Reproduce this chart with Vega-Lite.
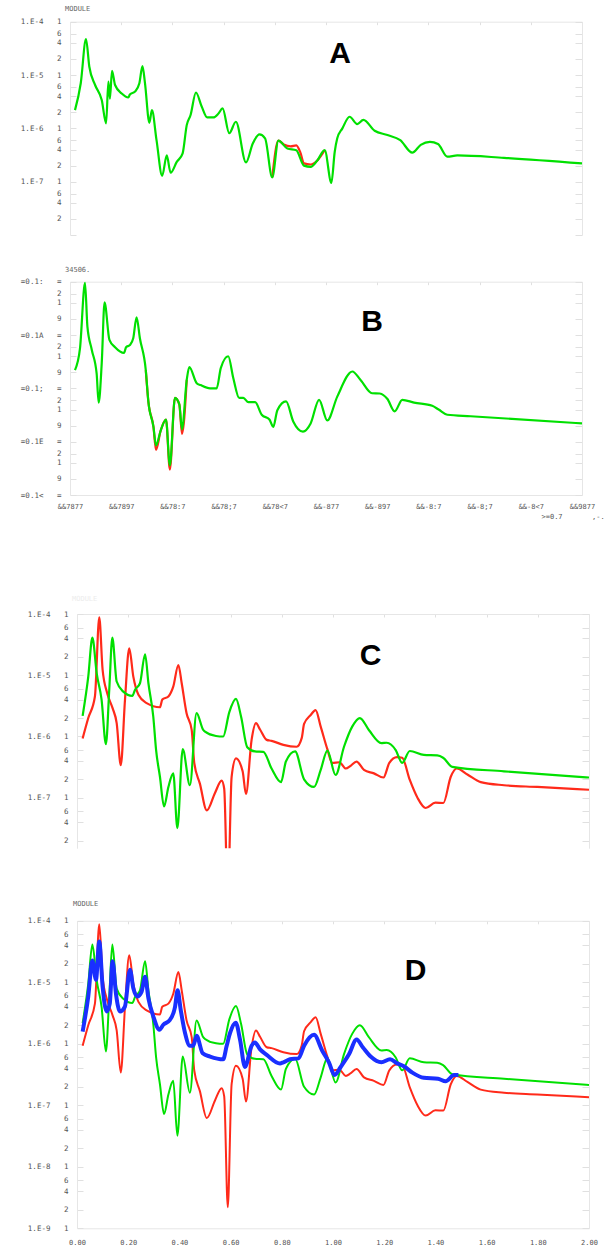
{
"$schema":"https://vega.github.io/schema/vega-lite/v6.json",
"padding":{"left":20,"top":0,"right":0,"bottom":0},
"autosize":{"type":"pad"},
"bounds":"flush",
"spacing":0,
"background":"white",
"config":{"view":{"stroke":null},"axis":{"grid":false,"title":null,"labelOverlap":false,"labelBound":false,"labelFlush":false,"labelFont":"DejaVu Sans Mono","labelFontSize":7.5,"labelColor":"#555","domainColor":"#e6e6e6","tickColor":"#e0e0e0"}},
"datasets":{
"a_red":[{"x":0.79,"y":1.2e-7},{"x":0.814,"y":5.9e-7},{"x":0.835,"y":5.0e-7},{"x":0.862,"y":4.6e-7},{"x":0.884,"y":4.8e-7},{"x":0.9,"y":3.5e-7},{"x":0.914,"y":2.2e-7},{"x":0.94,"y":2.1e-7},{"x":0.966,"y":2.5e-7},{"x":0.995,"y":3.9e-7}],
"a_green":[{"x":0.0195,"y":2.2e-6},{"x":0.042,"y":7e-6},{"x":0.0625,"y":4.7e-5},{"x":0.0755,"y":1.43e-5},{"x":0.098,"y":6.5e-6},{"x":0.124,"y":3.4e-6},{"x":0.141,"y":1.24e-6},{"x":0.15,"y":7.5e-6},{"x":0.156,"y":3.6e-6},{"x":0.164,"y":1.2e-5},{"x":0.176,"y":6.5e-6},{"x":0.202,"y":4.5e-6},{"x":0.228,"y":3.8e-6},{"x":0.234,"y":4.3e-6},{"x":0.254,"y":4.9e-6},{"x":0.271,"y":7.0e-6},{"x":0.283,"y":1.47e-5},{"x":0.293,"y":7e-6},{"x":0.31,"y":1.27e-6},{"x":0.32,"y":2.2e-6},{"x":0.338,"y":6.0e-7},{"x":0.36,"y":1.29e-7},{"x":0.378,"y":3.1e-7},{"x":0.393,"y":1.47e-7},{"x":0.417,"y":2.35e-7},{"x":0.44,"y":3.4e-7},{"x":0.456,"y":1.15e-6},{"x":0.471,"y":1.78e-6},{"x":0.492,"y":4.7e-6},{"x":0.514,"y":2.6e-6},{"x":0.536,"y":1.6e-6},{"x":0.56,"y":1.6e-6},{"x":0.58,"y":1.9e-6},{"x":0.596,"y":2.37e-6},{"x":0.622,"y":8.1e-7},{"x":0.648,"y":1.33e-6},{"x":0.6875,"y":2.3e-7},{"x":0.714,"y":5.2e-7},{"x":0.74,"y":7.7e-7},{"x":0.762,"y":6.5e-7},{"x":0.79,"y":1.2e-7},{"x":0.814,"y":5.9e-7},{"x":0.849,"y":4.2e-7},{"x":0.884,"y":3.9e-7},{"x":0.914,"y":2.0e-7},{"x":0.94,"y":1.9e-7},{"x":0.966,"y":2.5e-7},{"x":0.995,"y":3.9e-7},{"x":1.021,"y":9.5e-8},{"x":1.034,"y":3.6e-7},{"x":1.044,"y":6.5e-7},{"x":1.064,"y":1.0e-6},{"x":1.092,"y":1.65e-6},{"x":1.122,"y":1.2e-6},{"x":1.146,"y":1.44e-6},{"x":1.19,"y":9.0e-7},{"x":1.24,"y":7.5e-7},{"x":1.29,"y":6.0e-7},{"x":1.337,"y":3.5e-7},{"x":1.37,"y":4.9e-7},{"x":1.406,"y":5.6e-7},{"x":1.4375,"y":5.1e-7},{"x":1.474,"y":2.95e-7},{"x":1.513,"y":3.1e-7},{"x":1.695,"y":2.8e-7},{"x":2.0,"y":2.2e-7}],
"b_red":[{"x":0.296,"y":2.2e-6},{"x":0.306,"y":5.7e-7},{"x":0.326,"y":1.9e-7},{"x":0.336,"y":7e-8},{"x":0.354,"y":1.6e-7},{"x":0.375,"y":2.6e-7},{"x":0.39,"y":3.0e-8},{"x":0.41,"y":6.6e-7},{"x":0.427,"y":5.0e-7},{"x":0.4375,"y":1.4e-7},{"x":0.456,"y":1.44e-6}],
"b_green":[{"x":0.0195,"y":2.2e-6},{"x":0.039,"y":5.6e-6},{"x":0.0586,"y":9.5e-5},{"x":0.068,"y":1.44e-5},{"x":0.085,"y":5.3e-6},{"x":0.104,"y":1.9e-6},{"x":0.112,"y":5.4e-7},{"x":0.124,"y":3.0e-6},{"x":0.135,"y":4.1e-5},{"x":0.154,"y":8.1e-6},{"x":0.176,"y":5.9e-6},{"x":0.211,"y":4.6e-6},{"x":0.219,"y":5.9e-6},{"x":0.234,"y":6.5e-6},{"x":0.247,"y":8.7e-6},{"x":0.26,"y":2.15e-5},{"x":0.273,"y":8.7e-6},{"x":0.296,"y":2.2e-6},{"x":0.306,"y":5.7e-7},{"x":0.326,"y":1.9e-7},{"x":0.336,"y":8.5e-8},{"x":0.354,"y":1.6e-7},{"x":0.375,"y":2.6e-7},{"x":0.39,"y":3.6e-8},{"x":0.41,"y":6.6e-7},{"x":0.427,"y":5.0e-7},{"x":0.4375,"y":1.7e-7},{"x":0.456,"y":1.44e-6},{"x":0.466,"y":2.5e-6},{"x":0.495,"y":1.25e-6},{"x":0.51,"y":1.15e-6},{"x":0.547,"y":1.0e-6},{"x":0.573,"y":1.0e-6},{"x":0.589,"y":2.4e-6},{"x":0.618,"y":4.0e-6},{"x":0.638,"y":1.55e-6},{"x":0.661,"y":6.6e-7},{"x":0.677,"y":6.6e-7},{"x":0.697,"y":5.5e-7},{"x":0.723,"y":5.5e-7},{"x":0.749,"y":3.2e-7},{"x":0.779,"y":2.6e-7},{"x":0.794,"y":1.9e-7},{"x":0.81,"y":3.9e-7},{"x":0.844,"y":5.7e-7},{"x":0.872,"y":2.4e-7},{"x":0.91,"y":1.55e-7},{"x":0.94,"y":2.2e-7},{"x":0.973,"y":6.1e-7},{"x":1.005,"y":2.5e-7},{"x":1.044,"y":7.0e-7},{"x":1.103,"y":2.07e-6},{"x":1.135,"y":1.44e-6},{"x":1.18,"y":8.1e-7},{"x":1.21,"y":8.0e-7},{"x":1.24,"y":6.3e-7},{"x":1.268,"y":3.7e-7},{"x":1.298,"y":6.1e-7},{"x":1.344,"y":5.4e-7},{"x":1.415,"y":4.7e-7},{"x":1.44,"y":4.0e-7},{"x":1.474,"y":3.2e-7},{"x":1.565,"y":3.0e-7},{"x":2.0,"y":2.2e-7}],
"red":[{"x":0.022,"y":9.3e-7},{"x":0.044,"y":2.0e-6},{"x":0.07,"y":4.5e-6},{"x":0.087,"y":8.8e-5},{"x":0.1,"y":1.23e-5},{"x":0.118,"y":5.1e-6},{"x":0.139,"y":2.9e-6},{"x":0.155,"y":1.65e-6},{"x":0.171,"y":3.4e-7},{"x":0.1875,"y":4.0e-6},{"x":0.204,"y":2.75e-5},{"x":0.22,"y":9.5e-6},{"x":0.24,"y":4.8e-6},{"x":0.272,"y":3.5e-6},{"x":0.324,"y":3.0e-6},{"x":0.333,"y":4.0e-6},{"x":0.357,"y":4.5e-6},{"x":0.376,"y":6.5e-6},{"x":0.396,"y":1.47e-5},{"x":0.409,"y":7.4e-6},{"x":0.428,"y":2.4e-6},{"x":0.448,"y":1.28e-6},{"x":0.458,"y":3.7e-7},{"x":0.48,"y":1.7e-7},{"x":0.507,"y":6.2e-8},{"x":0.539,"y":1.2e-7},{"x":0.565,"y":1.9e-7},{"x":0.575,"y":1.4e-7},{"x":0.589,"y":2.2e-9},{"x":0.604,"y":2.2e-7},{"x":0.621,"y":4.4e-7},{"x":0.647,"y":2.7e-7},{"x":0.66,"y":1.15e-7},{"x":0.682,"y":8.8e-7},{"x":0.699,"y":1.65e-6},{"x":0.715,"y":1.3e-6},{"x":0.741,"y":8.8e-7},{"x":0.76,"y":8.5e-7},{"x":0.806,"y":7.3e-7},{"x":0.858,"y":6.8e-7},{"x":0.878,"y":9.5e-7},{"x":0.887,"y":1.6e-6},{"x":0.913,"y":2.25e-6},{"x":0.932,"y":2.7e-6},{"x":0.952,"y":1.45e-6},{"x":0.978,"y":6.2e-7},{"x":0.997,"y":3.7e-7},{"x":1.025,"y":3.8e-7},{"x":1.05,"y":3.0e-7},{"x":1.068,"y":3.3e-7},{"x":1.092,"y":3.9e-7},{"x":1.121,"y":2.85e-7},{"x":1.16,"y":2.5e-7},{"x":1.197,"y":2.14e-7},{"x":1.22,"y":3.7e-7},{"x":1.25,"y":4.6e-7},{"x":1.27,"y":4.5e-7},{"x":1.3,"y":1.95e-7},{"x":1.33,"y":1.0e-7},{"x":1.362,"y":6.8e-8},{"x":1.4,"y":8.3e-8},{"x":1.431,"y":8.2e-8},{"x":1.46,"y":2.2e-7},{"x":1.483,"y":3.0e-7},{"x":1.525,"y":2.4e-7},{"x":1.577,"y":1.8e-7},{"x":1.668,"y":1.6e-7},{"x":1.798,"y":1.5e-7},{"x":2.0,"y":1.35e-7}],
"green":[{"x":0.022,"y":2.17e-6},{"x":0.044,"y":9.5e-6},{"x":0.06,"y":4.1e-5},{"x":0.077,"y":1.07e-5},{"x":0.096,"y":4.0e-6},{"x":0.113,"y":7.5e-7},{"x":0.126,"y":5.8e-6},{"x":0.138,"y":4.1e-5},{"x":0.155,"y":7.9e-6},{"x":0.181,"y":5.4e-6},{"x":0.216,"y":4.6e-6},{"x":0.227,"y":5.8e-6},{"x":0.246,"y":7.4e-6},{"x":0.266,"y":2.2e-5},{"x":0.279,"y":7.4e-6},{"x":0.298,"y":2.1e-6},{"x":0.309,"y":6.0e-7},{"x":0.324,"y":2.2e-7},{"x":0.34,"y":7.2e-8},{"x":0.357,"y":1.5e-7},{"x":0.376,"y":2.5e-7},{"x":0.392,"y":3.2e-8},{"x":0.413,"y":6.2e-7},{"x":0.441,"y":1.6e-7},{"x":0.467,"y":2.4e-6},{"x":0.493,"y":1.28e-6},{"x":0.5,"y":1.2e-6},{"x":0.543,"y":1.02e-6},{"x":0.571,"y":1.0e-6},{"x":0.595,"y":2.5e-6},{"x":0.621,"y":4.1e-6},{"x":0.641,"y":2.1e-6},{"x":0.665,"y":6.7e-7},{"x":0.695,"y":5.7e-7},{"x":0.728,"y":5.6e-7},{"x":0.76,"y":3.0e-7},{"x":0.797,"y":1.8e-7},{"x":0.816,"y":3.9e-7},{"x":0.852,"y":5.7e-7},{"x":0.887,"y":2.0e-7},{"x":0.926,"y":1.5e-7},{"x":0.952,"y":2.85e-7},{"x":0.978,"y":5.9e-7},{"x":1.01,"y":2.35e-7},{"x":1.043,"y":6.8e-7},{"x":1.075,"y":1.45e-6},{"x":1.105,"y":2.0e-6},{"x":1.14,"y":1.28e-6},{"x":1.189,"y":7.8e-7},{"x":1.21,"y":7.9e-7},{"x":1.245,"y":6.0e-7},{"x":1.27,"y":3.7e-7},{"x":1.3,"y":5.8e-7},{"x":1.355,"y":5.0e-7},{"x":1.407,"y":4.9e-7},{"x":1.43,"y":4.5e-7},{"x":1.466,"y":3.2e-7},{"x":1.668,"y":2.7e-7},{"x":2.0,"y":2.14e-7}],
"blue":[{"x":0.022,"y":1.58e-6},{"x":0.044,"y":5.9e-6},{"x":0.06,"y":2.26e-5},{"x":0.074,"y":1.1e-5},{"x":0.087,"y":4.6e-5},{"x":0.1,"y":8.5e-6},{"x":0.116,"y":3.35e-6},{"x":0.128,"y":4.5e-6},{"x":0.139,"y":2.2e-5},{"x":0.152,"y":6.6e-6},{"x":0.168,"y":3.35e-6},{"x":0.187,"y":4.0e-6},{"x":0.207,"y":1.6e-5},{"x":0.22,"y":8.0e-6},{"x":0.236,"y":5.9e-6},{"x":0.252,"y":7.0e-6},{"x":0.266,"y":1.23e-5},{"x":0.279,"y":5.5e-6},{"x":0.298,"y":2.8e-6},{"x":0.322,"y":1.7e-6},{"x":0.337,"y":2.04e-6},{"x":0.363,"y":2.45e-6},{"x":0.383,"y":4.0e-6},{"x":0.393,"y":7.4e-6},{"x":0.405,"y":3.6e-6},{"x":0.422,"y":1.5e-6},{"x":0.441,"y":9.3e-7},{"x":0.454,"y":9.3e-7},{"x":0.467,"y":1.35e-6},{"x":0.491,"y":7.0e-7},{"x":0.52,"y":6.2e-7},{"x":0.571,"y":5.6e-7},{"x":0.584,"y":9.0e-7},{"x":0.598,"y":1.5e-6},{"x":0.62,"y":2.2e-6},{"x":0.637,"y":1.16e-6},{"x":0.656,"y":4.2e-7},{"x":0.682,"y":9.3e-7},{"x":0.695,"y":1.05e-6},{"x":0.715,"y":8.1e-7},{"x":0.741,"y":6.6e-7},{"x":0.793,"y":4.8e-7},{"x":0.806,"y":5.0e-7},{"x":0.832,"y":5.6e-7},{"x":0.865,"y":5.8e-7},{"x":0.887,"y":9.3e-7},{"x":0.926,"y":1.4e-6},{"x":0.958,"y":7.7e-7},{"x":0.984,"y":5.0e-7},{"x":1.006,"y":3.1e-7},{"x":1.03,"y":4.2e-7},{"x":1.063,"y":6.8e-7},{"x":1.092,"y":1.17e-6},{"x":1.117,"y":8.7e-7},{"x":1.147,"y":6.2e-7},{"x":1.189,"y":5.0e-7},{"x":1.223,"y":5.6e-7},{"x":1.251,"y":4.8e-7},{"x":1.277,"y":4.3e-7},{"x":1.31,"y":3.4e-7},{"x":1.355,"y":2.8e-7},{"x":1.41,"y":2.7e-7},{"x":1.44,"y":2.45e-7},{"x":1.473,"y":3.1e-7},{"x":1.49,"y":3.1e-7}]
},
"vconcat":[
{
 "width":512,"height":250,
 "title":{"text":"MODULE","anchor":"start","frame":"group","offset":-17.5,"dx":-5,"baseline":"alphabetic","font":"DejaVu Sans Mono","fontSize":7,"fontWeight":"normal","color":"#666"},
 "layer":[
  {"data":{"name":"a_red"},"mark":{"type":"line","interpolate":"monotone","color":"#ff2a1a","strokeWidth":2.2,"clip":true},
   "encoding":{"x":{"field":"x","type":"quantitative","scale":{"domain":[0,2],"range":[0,512],"nice":false},"axis":{"orient":"top","offset":-21.7,"values":[0,0.2,0.4,0.6,0.8,1,1.2,1.4,1.6,1.8,2],"labels":false,"tickSize":-3}},
    "y":{"field":"y","type":"quantitative","scale":{"type":"log","domain":[1e-8,1e-4],"range":[235,21.7],"nice":false},"axis":{"orient":"left","values":[1e-4,6e-5,4e-5,2e-5,1e-5,6e-6,4e-6,2e-6,1e-6,6e-7,4e-7,2e-7,1e-7,6e-8,4e-8,2e-8,1e-8],"tickSize":-6,"labelPadding":15,"labelAlign":"right","labelExpr":"datum.value < 1.5e-8 ? '' : (round(datum.value/pow(10,floor(log(datum.value)/LN10+1e-6)))==1 ? '1.E'+floor(log(datum.value)/LN10+1e-6)+'\u00a0\u00a0\u00a01' : ''+round(datum.value/pow(10,floor(log(datum.value)/LN10+1e-6))))"}}}},
  {"data":{"name":"a_green"},"mark":{"type":"line","interpolate":"monotone","color":"#00e000","strokeWidth":2.2,"clip":true},
   "encoding":{"x":{"field":"x","type":"quantitative","axis":null},"y":{"field":"y","type":"quantitative","axis":null}}},
  {"data":{"values":[{"label":"A","x":1.055,"y":1.68e-5}]},"mark":{"type":"text","font":"Liberation Sans","fontSize":30,"fontWeight":"bold","color":"#000","align":"center","baseline":"alphabetic"},
   "encoding":{"x":{"field":"x","type":"quantitative","axis":null},"y":{"field":"y","type":"quantitative","axis":{"orient":"right","values":[1e-4,6e-5,4e-5,2e-5,1e-5,6e-6,4e-6,2e-6,1e-6,6e-7,4e-7,2e-7,1e-7,6e-8,4e-8,2e-8,1e-8],"labels":false,"tickSize":-7}},"text":{"field":"label"}}}
 ],
 "resolve":{"axis":{"x":"independent","y":"independent"}}
},
{
 "width":512,"height":245,
 "title":{"text":"34506.","anchor":"start","frame":"group","offset":-28.5,"dx":-5,"baseline":"alphabetic","font":"DejaVu Sans Mono","fontSize":7,"fontWeight":"normal","color":"#666"},
 "layer":[
  {"data":{"name":"b_red"},"mark":{"type":"line","interpolate":"monotone","color":"#ff2a1a","strokeWidth":2.2,"clip":true},
   "encoding":{"x":{"field":"x","type":"quantitative","scale":{"domain":[0,2],"range":[0,512],"nice":false},"axis":{"orient":"top","offset":-31.7,"values":[0,0.2,0.4,0.6,0.8,1,1.2,1.4,1.6,1.8,2],"labels":false,"tickSize":-3}},
    "y":{"field":"y","type":"quantitative","scale":{"type":"log","domain":[1e-8,1e-4],"range":[245,31.7],"nice":false},"axis":{"orient":"left","values":[1e-4,6e-5,4e-5,2e-5,1e-5,6e-6,4e-6,2e-6,1e-6,6e-7,4e-7,2e-7,1e-7,6e-8,4e-8,2e-8,1e-8],"tickSize":-6,"labelPadding":15,"labelAlign":"right","labelExpr":"round(datum.value/pow(10,floor(log(datum.value)/LN10+1e-6)))==1 ? ['=0.1:','=0.1A','=0.1;','=0.1E','=0.1<'][-4-floor(log(datum.value)/LN10+1e-6)]+'\u00a0\u00a0\u00a0=' : ['','=','9','','1','','2'][round(datum.value/pow(10,floor(log(datum.value)/LN10+1e-6)))]"}}}},
  {"data":{"name":"b_green"},"mark":{"type":"line","interpolate":"monotone","color":"#00e000","strokeWidth":2.2,"clip":true},
   "encoding":{"x":{"field":"x","type":"quantitative","axis":null},"y":{"field":"y","type":"quantitative","axis":null}}},
  {"data":{"values":[{"label":"B","x":1.18,"y":1.2e-5}]},"mark":{"type":"text","font":"Liberation Sans","fontSize":30,"fontWeight":"bold","color":"#000","align":"center","baseline":"alphabetic"},
   "encoding":{"x":{"field":"x","type":"quantitative","axis":{"orient":"bottom","values":[0,0.2,0.4,0.6,0.8,1,1.2,1.4,1.6,1.8,2],"ticks":false,"labelPadding":7,"labelFontSize":7,"labelDx":-7,"labelExpr":"['&&7877','&&7897','&&78:7','&&78;7','&&78<7','&&-877','&&-897','&&-8:7','&&-8;7','&&-8<7','&&9877'][round(datum.value*5)]","title":">=0.7\u00a0\u00a0\u00a0\u00a0\u00a0\u00a0\u00a0,-.","titleFont":"DejaVu Sans Mono","titleFontSize":7,"titleFontWeight":"normal","titleColor":"#555","titleX":471,"titleY":21,"titleAlign":"left","titleBaseline":"middle","titleAnchor":"start"}},
    "y":{"field":"y","type":"quantitative","axis":{"orient":"right","values":[1e-4,6e-5,4e-5,2e-5,1e-5,6e-6,4e-6,2e-6,1e-6,6e-7,4e-7,2e-7,1e-7,6e-8,4e-8,2e-8,1e-8],"labels":false,"tickSize":-7}},"text":{"field":"label"}}}
 ],
 "resolve":{"axis":{"x":"independent","y":"independent"}}
},
{
 "width":519,"height":353.2,
 "title":{"text":"MODULE","anchor":"start","frame":"group","offset":-112.5,"dx":2,"baseline":"alphabetic","font":"DejaVu Sans Mono","fontSize":7,"fontWeight":"normal","color":"#ececec"},
 "layer":[
  {"data":{"name":"red"},"mark":{"type":"line","interpolate":"monotone","color":"#ff2a1a","strokeWidth":2.2,"clip":true},
   "encoding":{"x":{"field":"x","type":"quantitative","scale":{"domain":[0,2],"range":[7,519],"nice":false},"axis":{"orient":"top","offset":-119,"values":[0,0.2,0.4,0.6,0.8,1,1.2,1.4,1.6,1.8,2],"labels":false,"tickSize":-3}},
    "y":{"field":"y","type":"quantitative","scale":{"type":"log","domain":[1.5e-8,1e-4],"range":[353.2,119],"nice":false},"axis":{"orient":"left","offset":-7,"values":[1e-4,6e-5,4e-5,2e-5,1e-5,6e-6,4e-6,2e-6,1e-6,6e-7,4e-7,2e-7,1e-7,6e-8,4e-8,2e-8],"tickSize":-6,"labelPadding":15,"labelAlign":"right","labelExpr":"round(datum.value/pow(10,floor(log(datum.value)/LN10+1e-6)))==1 ? '1.E'+floor(log(datum.value)/LN10+1e-6)+'\u00a0\u00a0\u00a01' : ''+round(datum.value/pow(10,floor(log(datum.value)/LN10+1e-6)))"}}}},
  {"data":{"name":"green"},"mark":{"type":"line","interpolate":"monotone","color":"#00e000","strokeWidth":2.2,"clip":true},
   "encoding":{"x":{"field":"x","type":"quantitative","axis":null},"y":{"field":"y","type":"quantitative","axis":null}}},
  {"data":{"values":[{"label":"C","x":1.147,"y":1.47e-5}]},"mark":{"type":"text","font":"Liberation Sans","fontSize":30,"fontWeight":"bold","color":"#000","align":"center","baseline":"alphabetic"},
   "encoding":{"x":{"field":"x","type":"quantitative","axis":null},"y":{"field":"y","type":"quantitative","axis":{"orient":"right","values":[1e-4,6e-5,4e-5,2e-5,1e-5,6e-6,4e-6,2e-6,1e-6,6e-7,4e-7,2e-7,1e-7,6e-8,4e-8,2e-8],"labels":false,"tickSize":-7}},"text":{"field":"label"}}}
 ],
 "resolve":{"axis":{"x":"independent","y":"independent"}}
},
{
 "width":519,"height":379.3,
 "title":{"text":"MODULE","anchor":"start","frame":"group","offset":-64.3,"dx":3,"baseline":"alphabetic","font":"DejaVu Sans Mono","fontSize":7,"fontWeight":"normal","color":"#666"},
 "layer":[
  {"data":{"name":"red"},"mark":{"type":"line","interpolate":"monotone","color":"#ff2a1a","strokeWidth":2,"clip":true},
   "encoding":{"x":{"field":"x","type":"quantitative","scale":{"domain":[0,2],"range":[7,519],"nice":false},"axis":{"orient":"top","offset":-71.8,"values":[0,0.2,0.4,0.6,0.8,1,1.2,1.4,1.6,1.8,2],"labels":false,"tickSize":-3}},
    "y":{"field":"y","type":"quantitative","scale":{"type":"log","domain":[1e-9,1e-4],"range":[379.3,71.8],"nice":false},"axis":{"orient":"left","offset":-7,"values":[1e-4,6e-5,4e-5,2e-5,1e-5,6e-6,4e-6,2e-6,1e-6,6e-7,4e-7,2e-7,1e-7,6e-8,4e-8,2e-8,1e-8,6e-9,4e-9,2e-9,1e-9],"tickSize":-6,"labelPadding":15,"labelAlign":"right","labelExpr":"round(datum.value/pow(10,floor(log(datum.value)/LN10+1e-6)))==1 ? '1.E'+floor(log(datum.value)/LN10+1e-6)+'\u00a0\u00a0\u00a01' : ''+round(datum.value/pow(10,floor(log(datum.value)/LN10+1e-6)))"}}}},
  {"data":{"name":"green"},"mark":{"type":"line","interpolate":"monotone","color":"#00e000","strokeWidth":2,"clip":true},
   "encoding":{"x":{"field":"x","type":"quantitative","axis":null},"y":{"field":"y","type":"quantitative","axis":null}}},
  {"data":{"name":"blue"},"mark":{"type":"line","interpolate":"monotone","color":"#1a2fff","strokeWidth":4,"clip":true},
   "encoding":{"x":{"field":"x","type":"quantitative","axis":null},"y":{"field":"y","type":"quantitative","axis":null}}},
  {"data":{"values":[{"label":"D","x":1.323,"y":1.08e-5}]},"mark":{"type":"text","font":"Liberation Sans","fontSize":30,"fontWeight":"bold","color":"#000","align":"center","baseline":"alphabetic"},
   "encoding":{"x":{"field":"x","type":"quantitative","axis":{"orient":"bottom","values":[0,0.2,0.4,0.6,0.8,1,1.2,1.4,1.6,1.8,2],"format":".2f","ticks":false,"labelPadding":10,"labelFontSize":7,"labelDx":-1}},
    "y":{"field":"y","type":"quantitative","axis":{"orient":"right","values":[1e-4,6e-5,4e-5,2e-5,1e-5,6e-6,4e-6,2e-6,1e-6,6e-7,4e-7,2e-7,1e-7,6e-8,4e-8,2e-8,1e-8,6e-9,4e-9,2e-9,1e-9],"labels":false,"tickSize":-7}},"text":{"field":"label"}}}
 ],
 "resolve":{"axis":{"x":"independent","y":"independent"}}
}
]
}
